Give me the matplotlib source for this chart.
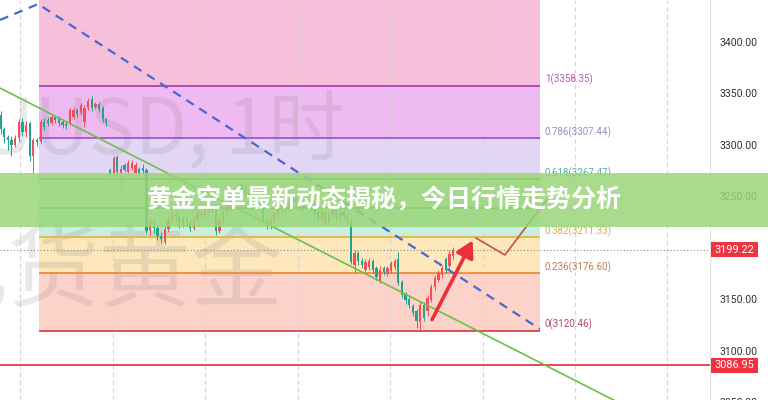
import numpy as np
import matplotlib
matplotlib.use('Agg')
import matplotlib.pyplot as plt
from matplotlib.patches import Rectangle

# XAUUSD 1h candles (price values)
opens = [
    3330, 3316, 3309, 3306, 3301, 3308, 3323, 3314, 3322, 3290,
    3306, 3304, 3323, 3325, 3322, 3328, 3326, 3323, 3321, 3322,
    3328, 3335, 3332, 3323, 3337, 3346, 3338, 3341, 3337, 3326,
    3277, 3274, 3289, 3274, 3281, 3275, 3279, 3274, 3278, 3279,
    3277, 3218, 3226, 3220, 3213, 3207, 3219, 3228, 3234, 3231,
    3224, 3229, 3226, 3220, 3229, 3235, 3233, 3238, 3242, 3238,
    3217, 3228, 3236, 3240, 3248, 3256, 3262, 3258, 3254, 3250,
    3246, 3249, 3244, 3228, 3222, 3228, 3234, 3240, 3244, 3240,
    3245, 3250, 3246, 3240, 3244, 3248, 3242, 3236, 3230, 3236,
    3226, 3233, 3238, 3231, 3236, 3232, 3226, 3184, 3196, 3188,
    3180, 3182, 3188, 3181, 3170, 3181, 3176, 3179, 3182, 3190,
    3168, 3156, 3151, 3145, 3140, 3129, 3146, 3140, 3150, 3163,
    3170, 3175, 3190, 3183, 3193,
]
closes = [
    3316, 3309, 3306, 3301, 3308, 3323, 3314, 3320, 3290, 3306,
    3304, 3323, 3318, 3322, 3328, 3325, 3322, 3320, 3319, 3335,
    3335, 3331, 3340, 3337, 3344, 3337, 3341, 3336, 3326, 3322,
    3273, 3288, 3275, 3278, 3277, 3283, 3283, 3281, 3274, 3276,
    3217, 3226, 3220, 3213, 3210, 3219, 3228, 3234, 3231, 3224,
    3229, 3226, 3220, 3229, 3235, 3233, 3238, 3242, 3238, 3217,
    3228, 3236, 3240, 3248, 3256, 3262, 3258, 3254, 3250, 3246,
    3249, 3244, 3228, 3222, 3228, 3234, 3240, 3244, 3240, 3245,
    3250, 3246, 3240, 3244, 3248, 3242, 3236, 3230, 3236, 3226,
    3233, 3238, 3231, 3236, 3232, 3228, 3187, 3196, 3188, 3184,
    3187, 3188, 3180, 3173, 3180, 3178, 3181, 3186, 3188, 3167,
    3155, 3150, 3146, 3138, 3130, 3146, 3133, 3152, 3163, 3172,
    3177, 3181, 3180, 3195, 3199.22,
]
highs = [
    3334, 3318, 3311, 3310, 3311, 3326, 3327, 3324, 3324, 3308,
    3308, 3326, 3327, 3328, 3331, 3330, 3329, 3325, 3323, 3337,
    3338, 3337, 3342, 3340, 3347, 3348, 3343, 3343, 3339, 3327,
    3279, 3290, 3291, 3281, 3283, 3286, 3286, 3284, 3280, 3282,
    3279, 3230, 3229, 3223, 3216, 3222, 3232, 3238, 3237, 3234,
    3232, 3231, 3229, 3232, 3238, 3237, 3241, 3245, 3244, 3240,
    3231, 3239, 3243, 3251, 3259, 3265, 3266, 3261, 3257, 3253,
    3252, 3251, 3246, 3231, 3231, 3237, 3243, 3247, 3247, 3249,
    3253, 3253, 3249, 3247, 3251, 3250, 3245, 3239, 3239, 3238,
    3236, 3241, 3240, 3239, 3238, 3234, 3230, 3199, 3198, 3191,
    3190, 3191, 3190, 3183, 3183, 3183, 3183, 3188, 3190, 3197,
    3170, 3158, 3153, 3147, 3142, 3149, 3148, 3155, 3166, 3175,
    3180, 3184, 3192, 3199, 3202,
]
lows = [
    3312, 3303, 3296, 3290, 3299, 3305, 3310, 3309, 3285, 3274,
    3300, 3302, 3315, 3319, 3320, 3322, 3319, 3317, 3316, 3320,
    3326, 3328, 3330, 3318, 3335, 3334, 3336, 3333, 3323, 3319,
    3270, 3270, 3272, 3260, 3275, 3273, 3277, 3272, 3272, 3273,
    3215, 3214, 3215, 3209, 3206, 3205, 3216, 3225, 3226, 3220,
    3221, 3222, 3217, 3218, 3227, 3230, 3230, 3235, 3235, 3214,
    3215, 3225, 3233, 3237, 3245, 3253, 3255, 3250, 3247, 3243,
    3243, 3240, 3225, 3219, 3219, 3225, 3231, 3237, 3236, 3237,
    3242, 3242, 3236, 3237, 3241, 3238, 3232, 3226, 3227, 3223,
    3223, 3230, 3228, 3228, 3229, 3225, 3185, 3177, 3184, 3181,
    3178, 3180, 3177, 3170, 3167, 3175, 3174, 3177, 3180, 3165,
    3152, 3147, 3143, 3135, 3123, 3120.46, 3130, 3135, 3148, 3160,
    3168, 3172, 3177, 3180, 3190,
]

# fibonacci retracement
fib_ratios = ['0', '0.236', '0.382', '0.5', '0.618', '0.786', '1']
fib_prices = [3120.46, 3176.60, 3211.33, 3239.40, 3267.47, 3307.44, 3358.35]
fib_span = [10.55, 147.8]          # candle index range of the fib box

last_price = 3199.22
support_price = 3086.95
price_ticks = [3050, 3100, 3150, 3250, 3300, 3350, 3400]
day_lines = [5.3, 30.7, 56.0, 81.4, 106.7, 132.1, 157.4, 182.7]

# drawn trend lines / arrows (candle index, price)
blue_x = [-0.14, 10.3, 147.8]
blue_y = [3422.3, 3437.8, 3122.2]
green_x = [-0.14, 194.4]
green_y = [3356.2, 3005.7]
arrow_from = (117.9, 3129.0)
arrow_to = (129.7, 3210.6)
path_x = [130.3, 138.2, 150.0]
path_y = [3210.6, 3194.1, 3249.4]

title = '黄金空单最新动态揭秘，今日行情走势分析'

plt.rcParams['font.family'] = ['Roboto', 'DejaVu Sans']
cjk = ['Noto Sans CJK SC', 'DejaVu Sans']

fig = plt.figure(figsize=(7.68, 4), dpi=100)
ymin, ymax = 3053.3, 3441.7

ax = fig.add_axes([0, 0, 710 / 768, 1])
ax.set_xlim(-0.14, 194.4)
ax.set_ylim(ymin, ymax)
for s in ax.spines.values():
    s.set_visible(False)
ax.set_xticks(day_lines)
ax.set_yticks([])
ax.tick_params(length=0, labelbottom=False)
ax.set_axisbelow(True)
ax.grid(axis='x', color='#d6d6d6', ls=(0, (4, 3)), lw=0.8)

# fib bands
band_colors = ['#fdd3c9', '#fde7bb', '#c9eedf', '#d5ecd5', '#e2d6f4', '#efb9f1']
line_colors = ['#d9424f', '#f0893a', '#e6b73a', '#4caf50', '#4caf50', '#9b59d0', '#b23cb4']
label_colors = ['#b5476a', '#c77b5c', '#d9a84a', '#4fb3a0', '#4fb3a0', '#9a8cc4', '#b55ab8']
for i, c in enumerate(band_colors):
    ax.fill_between(fib_span, fib_prices[i], fib_prices[i + 1], color=c, lw=0, zorder=0.2)
ax.fill_between(fib_span, fib_prices[-1], ymax + 10, color='#f6c0da', lw=0, zorder=0.2)
for r, p, lc, tc in zip(fib_ratios, fib_prices, line_colors, label_colors):
    ax.hlines(p, fib_span[0], fib_span[1], color=lc, lw=1.3, zorder=2)
    if r == '0.5':
        continue   # label sits under the headline banner
    ax.annotate(f'{r}({p:.2f})', (fib_span[1], p), xytext=(3.5, 4.5),
                textcoords='offset points', ha='left', va='center',
                fontsize=7, color=tc, zorder=2)

# watermark
ax.text(32.0, 3313.5, 'XAUUSD, 1时', ha='center', va='center', fontsize=55,
        color='#808080', alpha=0.17, family=cjk, zorder=0.6)
ax.text(27.0, 3175.7, '现货黄金', ha='center', va='center', fontsize=66,
        color='#808080', alpha=0.17, family=cjk, zorder=0.6)

ax.axhline(last_price, color='#8a8a8a', ls=(0, (1, 2)), lw=0.8, zorder=2)
ax.axhline(support_price, color='#e5394a', lw=1.3, zorder=2)

# candles
o = np.array(opens)
c = np.array(closes)
x = np.arange(len(o))
up = c >= o
col = np.where(up, '#f0505a', '#22a38f')
ax.vlines(x, lows, highs, color=col, lw=0.7, zorder=3)
body = np.maximum(np.abs(c - o), 0.8)
ax.bar(x, body, bottom=np.minimum(o, c), width=0.62, color=col, lw=0, zorder=3)

# trend lines
ax.plot(blue_x, blue_y, color='#4a66d4', lw=1.6, ls=(0, (4, 3)), zorder=4)
ax.plot(green_x, green_y, color='#6cc04a', lw=1.2, zorder=4)
ax.annotate('', xy=arrow_to, xytext=arrow_from,
            arrowprops=dict(arrowstyle='-|>,head_length=0.7,head_width=0.4',
                            color='#e8313c', lw=2.6, mutation_scale=14), zorder=5)
ax.plot(path_x, path_y, color='#c9504a', lw=1.2, zorder=5)

# price scale
pax = fig.add_axes([710 / 768, 0, 58 / 768, 1])
pax.set_xlim(0, 58)
pax.set_ylim(ymin, ymax)
pax.axis('off')
pax.axvline(0.3, color='#e2e2e2', lw=1)
for p in price_ticks:
    pax.text(10, p, f'{p:.2f}', ha='left', va='center', fontsize=7.5, color='#333333')
for p in [last_price, support_price]:
    pax.add_patch(Rectangle((1, p - 7.3), 47, 14.6, facecolor='#ef3340', lw=0, zorder=3))
    pax.text(24.5, p, f'{p:.2f}', ha='center', va='center', fontsize=7.8,
             color='white', zorder=4)

# headline banner
fig.add_artist(Rectangle((0, (400 - 227) / 400), 1, 54 / 400, transform=fig.transFigure,
                         facecolor=(0.6, 0.84, 0.47), alpha=0.85, lw=0, zorder=10))
fig.text(0.5, 200 / 400, title, ha='center', va='center', color='white',
         fontsize=18, fontweight='bold', family=cjk, zorder=11)

fig.savefig('out.png', dpi=100)
